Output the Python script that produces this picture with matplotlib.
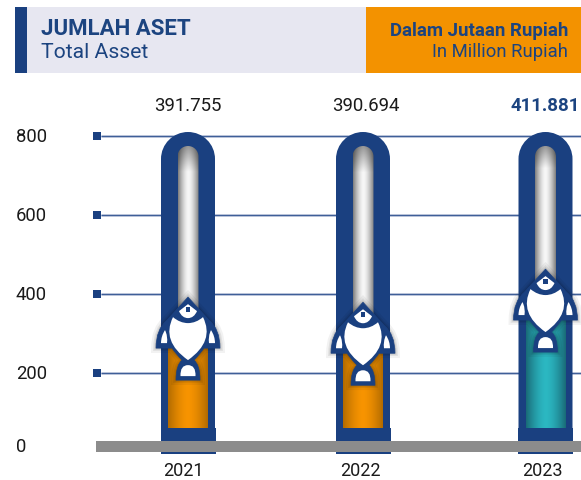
import numpy as np
import matplotlib
matplotlib.use('Agg')
import matplotlib.pyplot as plt
from matplotlib.patches import PathPatch, Rectangle
from matplotlib.path import Path
from matplotlib.transforms import Affine2D

plt.rcParams['font.family'] = ['Roboto', 'DejaVu Sans']

years = ['2021', '2022', '2023']
asset_labels = ['391.755', '390.694', '411.881']
fill_levels = [263, 250, 334]   # height of the coloured fill
y_ticks = [0, 200, 400, 600, 800]

NAVY = '#1A4080'
INK = '#1C4480'
W, H = 581, 481
centres = [188, 363, 545.5]
label_centres = [188, 366, 545]
tick_centres = [183.5, 360, 542]
fill_edges = [np.array([0.70, 0.42, 0.0]), np.array([0.70, 0.42, 0.0]), np.array([0.10, 0.42, 0.47])]
fill_mids = [np.array([0.97, 0.58, 0.0]), np.array([0.97, 0.58, 0.0]), np.array([0.17, 0.72, 0.76])]

fig = plt.figure(figsize=(W / 100, H / 100), dpi=100, facecolor='white')
ax = fig.add_axes([96 / W, (H - 453) / H, 485 / W, 316 / H])
ax.set_xlim(96, 581)
ax.set_ylim(0, 800)
ax.set_frame_on(False)
ax.set_yticks([])
px = Affine2D().scale(1, -1).translate(0, H - 1)   # picture pixels, y down


def box(x0, y0, x1, y1, color, z=1):
    fig.add_artist(Rectangle((x0, y0), x1 - x0, y1 - y0, transform=px, color=color, lw=0, zorder=z))


def ptext(x, y, s, **kw):
    fig.text(x, y, s, transform=px, va='center', **kw)


def round_top(x0, x1, top, bottom):
    r = (x1 - x0) / 2
    k = 0.5523 * r
    xc = (x0 + x1) / 2
    verts = [(x0, bottom), (x0, top + r),
             (x0, top + r - k), (xc - k, top), (xc, top),
             (xc + k, top), (x1, top + r - k), (x1, top + r),
             (x1, bottom), (x0, bottom)]
    codes = [Path.MOVETO, Path.LINETO,
             Path.CURVE4, Path.CURVE4, Path.CURVE4,
             Path.CURVE4, Path.CURVE4, Path.CURVE4,
             Path.LINETO, Path.CLOSEPOLY]
    return Path(verts, codes)


def mirrored(start, segs):
    # left half going down, then the same segments flipped coming back up
    verts, codes = [start], [Path.MOVETO]
    for ctrl, end in segs:
        if ctrl is not None:
            verts.append(ctrl)
            codes.append(Path.CURVE3)
            verts.append(end)
            codes.append(Path.CURVE3)
        else:
            verts.append(end)
            codes.append(Path.LINETO)
    ends = [start] + [s[1] for s in segs]
    for i in range(len(segs) - 1, -1, -1):
        ctrl = segs[i][0]
        end = (-ends[i][0], ends[i][1])
        if ctrl is not None:
            verts.append((-ctrl[0], ctrl[1]))
            codes.append(Path.CURVE3)
            verts.append(end)
            codes.append(Path.CURVE3)
        else:
            verts.append(end)
            codes.append(Path.LINETO)
    verts.append(start)
    codes.append(Path.CLOSEPOLY)
    return Path(verts, codes)


fish_outline = mirrored((0, 0), [(None, (-21, 23)), ((-32, 32), (-32, 51)),
                                 (None, (-16, 51)), ((-11, 58), (-6, 63)), ((-12, 68), (-12, 83)),
                                 (None, (0, 83))])
fish_body = mirrored((0, 26), [((-8, 26), (-15, 20)), ((-27, 44), (0, 63))])
fish_eye = mirrored((0, 7), [(None, (-9, 14)), ((-6, 21), (0, 21))])
fish_tail = mirrored((0, 68), [((-8, 68), (-7.5, 79)), (None, (0, 79))])
fish_pupil = Path([(-2.2, 10.2), (2.2, 10.2), (2.2, 14.8), (-2.2, 14.8), (-2.2, 10.2)], closed=True)
fin_left = Path([(-23, 33), (-27, 39), (-27, 46), (-21, 46), (-20, 39), (-23, 33)],
                [Path.MOVETO, Path.CURVE3, Path.CURVE3, Path.LINETO, Path.CURVE3, Path.CURVE3])
fin_right = Path(fin_left.vertices * [-1, 1], fin_left.codes)


def xc_disp(xc):
    return ax.transData.transform((xc, 0))[0]


def draw_fish(xc, level):
    _, y_disp = ax.transData.transform((xc, level))
    t = Affine2D().translate(0, -51).scale(1, -1).translate(xc_disp(xc), y_disp)
    for lw, a in [(7, 0.05), (4, 0.07), (2, 0.10)]:
        fig.add_artist(PathPatch(fish_outline, transform=t, fc='none', ec='black', lw=lw, alpha=a, zorder=8))
    fig.add_artist(PathPatch(fish_outline, transform=t, fc=NAVY, ec=NAVY, lw=0.5, zorder=9))
    for p in [fish_body, fish_eye, fish_tail, fin_left, fin_right]:
        fig.add_artist(PathPatch(p, transform=t, fc='white', ec='none', zorder=10))
    fig.add_artist(PathPatch(fish_pupil, transform=t, fc=NAVY, ec='none', zorder=11))


# header
box(15, 7, 27, 73, NAVY)
box(27, 7, 366, 73, '#E7E7F1')
box(366, 7, 581, 73, '#F39200')
ptext(41, 28, 'JUMLAH ASET', fontsize=16, fontweight='bold', color=INK)
ptext(41, 52, 'Total Asset', fontsize=15.2, color=INK)
ptext(568, 30, 'Dalam Jutaan Rupiah', fontsize=13.4, fontweight='bold', color=INK, ha='right')
ptext(568, 51, 'In Million Rupiah', fontsize=13.3, color=INK, ha='right')

# gridlines and tick labels
grid = [v for v in y_ticks if v > 0]
ax.hlines(grid, 101, 581, color='#C5CDE0', lw=2, zorder=1, clip_on=False)
ax.hlines(grid, 101, 581, color='#3F5F98', lw=0.9, zorder=1.1, clip_on=False)
ax.scatter([97] * len(grid), grid, marker='s', s=30, color=NAVY, lw=0, zorder=2, clip_on=False)
for v in y_ticks:
    ax.text(16, max(v, 15), str(v), fontsize=13.3, color='#1a1a1a', va='center', ha='left')

# value labels above the tubes
for i, s in enumerate(asset_labels):
    last = i == len(asset_labels) - 1
    ptext(label_centres[i], 105, s, fontsize=13.4, ha='center',
          fontweight='bold' if last else 'normal', color=INK if last else '#1a1a1a')

for i, xc in enumerate(centres):
    level = fill_levels[i]
    # outer tube
    ax.add_patch(PathPatch(round_top(xc - 27, xc + 27, 132, 440), transform=px, fc=NAVY, ec='none',
                           zorder=3, clip_on=False))

    # inner glass, grey at the sides and the top
    s = np.linspace(-1, 1, 60)
    v = np.linspace(0, 1, 200)
    across = 0.97 - 0.48 * np.abs(s) ** 1.6
    down = 1 - 0.40 * np.clip(1 - v / 0.13, 0, 1)
    glass = np.outer(down, across)
    im = ax.imshow(np.dstack([glass] * 3), extent=(xc - 10.5, xc + 10.5, level, 800 + 10 / 0.395 * -1),
                   aspect='auto', origin='upper', zorder=4, clip_on=True)
    im.set_clip_path(PathPatch(round_top(xc - 10.5, xc + 10.5, 146, 440), transform=px))

    # coloured fill, darker towards the tube wall
    bar = ax.bar(xc, level, width=39.5, color=fill_mids[i], zorder=4.5)[0]
    blend = np.abs(s)[:, None] ** 1.6
    shade = fill_mids[i] * (1 - blend) + fill_edges[i] * blend
    im = ax.imshow(shade[None, :, :], extent=(xc - 19.75, xc + 19.75, 0, level), aspect='auto', zorder=4.6)
    im.set_clip_path(bar)

    # base block
    box(xc - 27.5, 428, xc + 27.5, 453.5, NAVY, z=5)
    draw_fish(xc, level)

ax.set_xlim(96, 581)
ax.set_ylim(0, 800)

# grey floor
box(96, 441, 581, 452, '#8C8C8C', z=6)

ax.set_xticks(tick_centres, years)
ax.tick_params(axis='x', length=0, pad=6.5, labelsize=13, labelcolor='#1a1a1a')

fig.savefig('out.png', dpi=100)
